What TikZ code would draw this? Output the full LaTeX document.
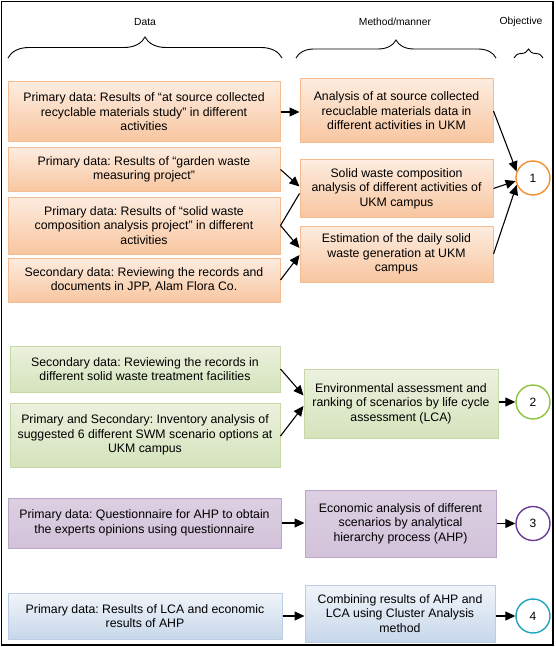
\documentclass[tikz,border=0pt]{standalone}
\usepackage{fontspec}
\setmainfont{Liberation Sans}
\frenchspacing
\usetikzlibrary{arrows.meta,decorations.pathreplacing,calc}
\definecolor{orT}{HTML}{FDECDF}
\definecolor{orB}{HTML}{F8C6A0}
\definecolor{orD}{HTML}{F5BC92}
\definecolor{grT}{HTML}{EBF1DE}
\definecolor{grB}{HTML}{D5E3BC}
\definecolor{grD}{HTML}{C6D8A6}
\definecolor{puT}{HTML}{DCD0E2}
\definecolor{puB}{HTML}{D2C2DA}
\definecolor{puD}{HTML}{B9A6C8}
\definecolor{blT}{HTML}{F1F5FA}
\definecolor{blB}{HTML}{C7D7EA}
\definecolor{blD}{HTML}{BACDE4}
\definecolor{cOne}{HTML}{F2902F}
\definecolor{cTwo}{HTML}{8DC43F}
\definecolor{cThree}{HTML}{6E3C96}
\definecolor{cFour}{HTML}{1FA3BE}
\tikzset{
  box/.style={rectangle, align=center, inner sep=1pt, line width=1pt,
    font=\fontsize{12.3}{14.6}\selectfont},
  orbox/.style={box, draw=orD, top color=orT, bottom color=orB},
  grbox/.style={box, draw=grD, top color=grT, bottom color=grB},
  pubox/.style={box, draw=puD, top color=puT, bottom color=puB},
  blbox/.style={box, draw=blD, top color=blT, bottom color=blB},
  objcirc/.style={circle, draw, fill=white, line width=1.4pt, minimum size=34pt, inner sep=0pt,
    font=\fontsize{12}{14}\selectfont},
  arr/.style={-{Triangle[length=10pt,width=9pt]}, line width=1.1pt},
  plain/.style={line width=1.1pt},
  hdr/.style={font=\fontsize{10.3}{12}\selectfont},
  brc/.style={decorate, line width=0.9pt}
}
\begin{document}
\begin{tikzpicture}[x=1pt,y=-1pt]
\useasboundingbox (0,0) rectangle (555,647);
\draw[line width=1.5pt] (1.5,1.5) rectangle (553,645);

% headers
\node[hdr] (hData) at (145,22) {Data};
\node[hdr] (hMeth) at (395,22) {Method/manner};
\node[hdr] (hObj) at (521,22) {Objective};
\coordinate (bDl) at (8,58);
\coordinate (bDr) at (282,58);
\coordinate (bMl) at (296,58);
\coordinate (bMr) at (496,58);
\coordinate (bOl) at (514,58);
\coordinate (bOr) at (543,58);
\draw[brc, decoration={brace, amplitude=21pt}] (bDl) -- (bDr);
\draw[brc, decoration={brace, amplitude=18pt}] (bMl) -- (bMr);
\draw[brc, decoration={brace, amplitude=9pt}] (bOl) -- (bOr);

% orange group
\node[orbox, minimum width=272pt, minimum height=60pt] (D1) at (144,112)
  {Primary data: Results of “at source collected\\recyclable materials study” in different\\activities};
\node[orbox, minimum width=272pt, minimum height=43pt] (D2) at (144,169.5)
  {Primary data: Results of “garden waste\\measuring project”};
\node[orbox, minimum width=272pt, minimum height=57pt] (D3) at (144,225.5)
  {Primary data: Results of “solid waste\\composition analysis project” in different\\activities};
\node[orbox, minimum width=272pt, minimum height=44pt] (D4) at (144,280)
  {Secondary data: Reviewing the records and\\documents in JPP, Alam Flora Co.};
\node[orbox, minimum width=193pt, minimum height=64pt] (MA) at (396.5,111)
  {Analysis of at source collected\\recuclable materials data in\\different activities in UKM};
\node[orbox, minimum width=193pt, minimum height=57pt] (MB) at (396.5,188.5)
  {Solid waste composition\\analysis of different activities of\\UKM campus};
\node[orbox, minimum width=193pt, minimum height=56pt] (MC) at (396.5,254)
  {Estimation of the daily solid\\waste generation at UKM\\campus};
\node[objcirc, draw=cOne] (C1) at (533,178) {1};

\draw[arr] (D1.east) -- (D1.east -| MA.west);
\draw[arr] (D2.east) -- ([yshift=2pt]MB.west);
\draw[plain] (D3.east) -- ([yshift=-5pt]MB.west);
\draw[arr] (D3.east) -- ([yshift=6pt]MC.west);
\draw[arr] (D4.east) -- ([yshift=-1pt]MC.west);
\draw[arr] (MA.east) -- (C1.158);
\draw[arr] (MB.east) -- (C1.190);
\draw[arr] (MC.east) -- (C1.203);

% green group
\node[grbox, minimum width=270pt, minimum height=46pt] (G1) at (145,369)
  {Secondary data: Reviewing the records in\\different solid waste treatment facilities};
\node[grbox, minimum width=270pt, minimum height=64pt] (G2) at (145,435)
  {Primary and Secondary: Inventory analysis of\\suggested 6 different SWM scenario options at\\UKM campus};
\node[grbox, minimum width=194pt, minimum height=69pt] (GM) at (401,403.5)
  {Environmental assessment and\\ranking of scenarios by life cycle\\assessment (LCA)};
\node[objcirc, draw=cTwo] (C2) at (533,402) {2};
\draw[arr] (G1.east) -- ([yshift=8pt]GM.west);
\draw[arr] ([yshift=-1pt]G2.east) -- ([yshift=-2.5pt]GM.west);
\draw[arr] (GM.east |- C2.west) -- (C2.west);

% purple group
\node[pubox, minimum width=273pt, minimum height=50pt] (P1) at (144.5,523)
  {Primary data: Questionnaire for AHP to obtain\\the experts opinions using questionnaire};
\node[pubox, minimum width=191pt, minimum height=67pt] (PM) at (400.5,523.5)
  {Economic analysis of different\\scenarios by analytical\\hierarchy process (AHP)};
\node[objcirc, draw=cThree] (C3) at (533,523.5) {3};
\draw[arr] (P1.east) -- (P1.east -| PM.west);
\draw[arr] (PM.east) -- (C3.west);

% blue group
\node[blbox, minimum width=274pt, minimum height=46pt] (B1) at (145,616)
  {Primary data: Results of LCA and economic\\results of AHP};
\node[blbox, minimum width=190pt, minimum height=57pt] (BM) at (400,613.5)
  {Combining results of AHP and\\LCA using Cluster Analysis\\method};
\node[objcirc, draw=cFour] (C4) at (533,616) {4};
\draw[arr] (B1.east) -- (B1.east -| BM.west);
\draw[arr] (BM.east |- C4.west) -- (C4.west);
\end{tikzpicture}
\end{document}
